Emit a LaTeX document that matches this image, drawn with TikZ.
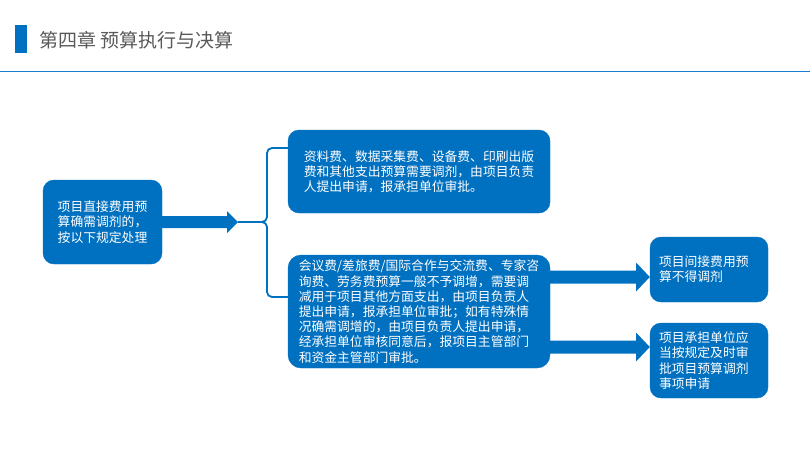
\documentclass[tikz,border=0pt]{standalone}
\usepackage{fontspec}
\newfontfamily\cjk{Noto Sans CJK SC}
\definecolor{boxblue}{HTML}{0070C0}
\definecolor{linblue}{HTML}{1A7CD0}
\definecolor{titlegray}{HTML}{595959}
\begin{document}
\begin{tikzpicture}[x=1pt,y=-1pt,
  box/.style={fill=boxblue, draw=boxblue, rounded corners=11pt, text=white,
    font=\cjk\fontsize{12.8}{15.2}\selectfont, inner sep=0pt},
  lbox/.style={box, align=left},
  cbox/.style={box, align=left},
  rbox/.style={box, align=left, text width=100pt},
  brace/.style={draw=boxblue, line width=1.8pt, rounded corners=5pt},
  blk/.style={fill=boxblue}
]
\useasboundingbox (0,0) rectangle (810,456);
% header
\fill[boxblue] (15,25) rectangle (27,53);
\node[anchor=west, text=titlegray, font=\cjk\fontsize{19}{22}\selectfont, inner sep=0pt] (title) at (39,40) {第四章 预算执行与决算};
\draw[linblue, line width=1.6pt] (0,71.5) -- (810,71.5);

% boxes
\node[cbox, minimum width=119pt, minimum height=84pt] (lb) at (102.5,222) {项目直接费用预\\算确需调剂的，\\按以下规定处理};
\node[lbox, minimum width=262pt, minimum height=83pt] (tb) at (419,171.5) {资料费、数据采集费、设备费、印刷出版\\费和其他支出预算需要调剂，由项目负责\\人提出申请，报承担单位审批。};
\node[lbox, minimum width=262pt, minimum height=113pt, rounded corners=13pt] (mb) at (419,311.5) {会议费/差旅费/国际合作与交流费、专家咨\\询费、劳务费预算一般不予调增，需要调\\减用于项目其他方面支出，由项目负责人\\提出申请，报承担单位审批；如有特殊情\\况确需调增的，由项目负责人提出申请，\\经承担单位审核同意后，报项目主管部门\\和资金主管部门审批。};
\node[rbox, minimum width=118pt, minimum height=65pt] (rt) at (709,269.5) {项目间接费用预\\算不得调剂};
\node[rbox, minimum width=118pt, minimum height=75pt] (rb) at (709,360.5) {项目承担单位应\\当按规定及时审\\批项目预算调剂\\事项申请};

% arrow from left box to brace
\coordinate (bt) at (238,222);
\fill[blk] (lb.east |- 0,216) -- (227,216) -- (227,211) -- (bt) -- (227,233) -- (227,228) -- (lb.east |- 0,228) -- cycle;
% brace
\draw[brace] (tb.west |- 0,148) -- (267,148) -- (267,222) -- (bt);
\draw[brace] (bt) -- (267,222) -- (267,297) -- (mb.west |- 0,297);

% arrows from middle box to right boxes
\coordinate (a1) at (rt.west |- 0,277);
\coordinate (a2) at (rb.west |- 0,347);
\fill[blk] (mb.east |- 0,270.5) -- (636,270.5) -- (636,262.5) -- (a1) -- (636,291.5) -- (636,283.5) -- (mb.east |- 0,283.5) -- cycle;
\fill[blk] (mb.east |- 0,340.5) -- (636,340.5) -- (636,332.5) -- (a2) -- (636,361.5) -- (636,353.5) -- (mb.east |- 0,353.5) -- cycle;
\end{tikzpicture}
\end{document}
